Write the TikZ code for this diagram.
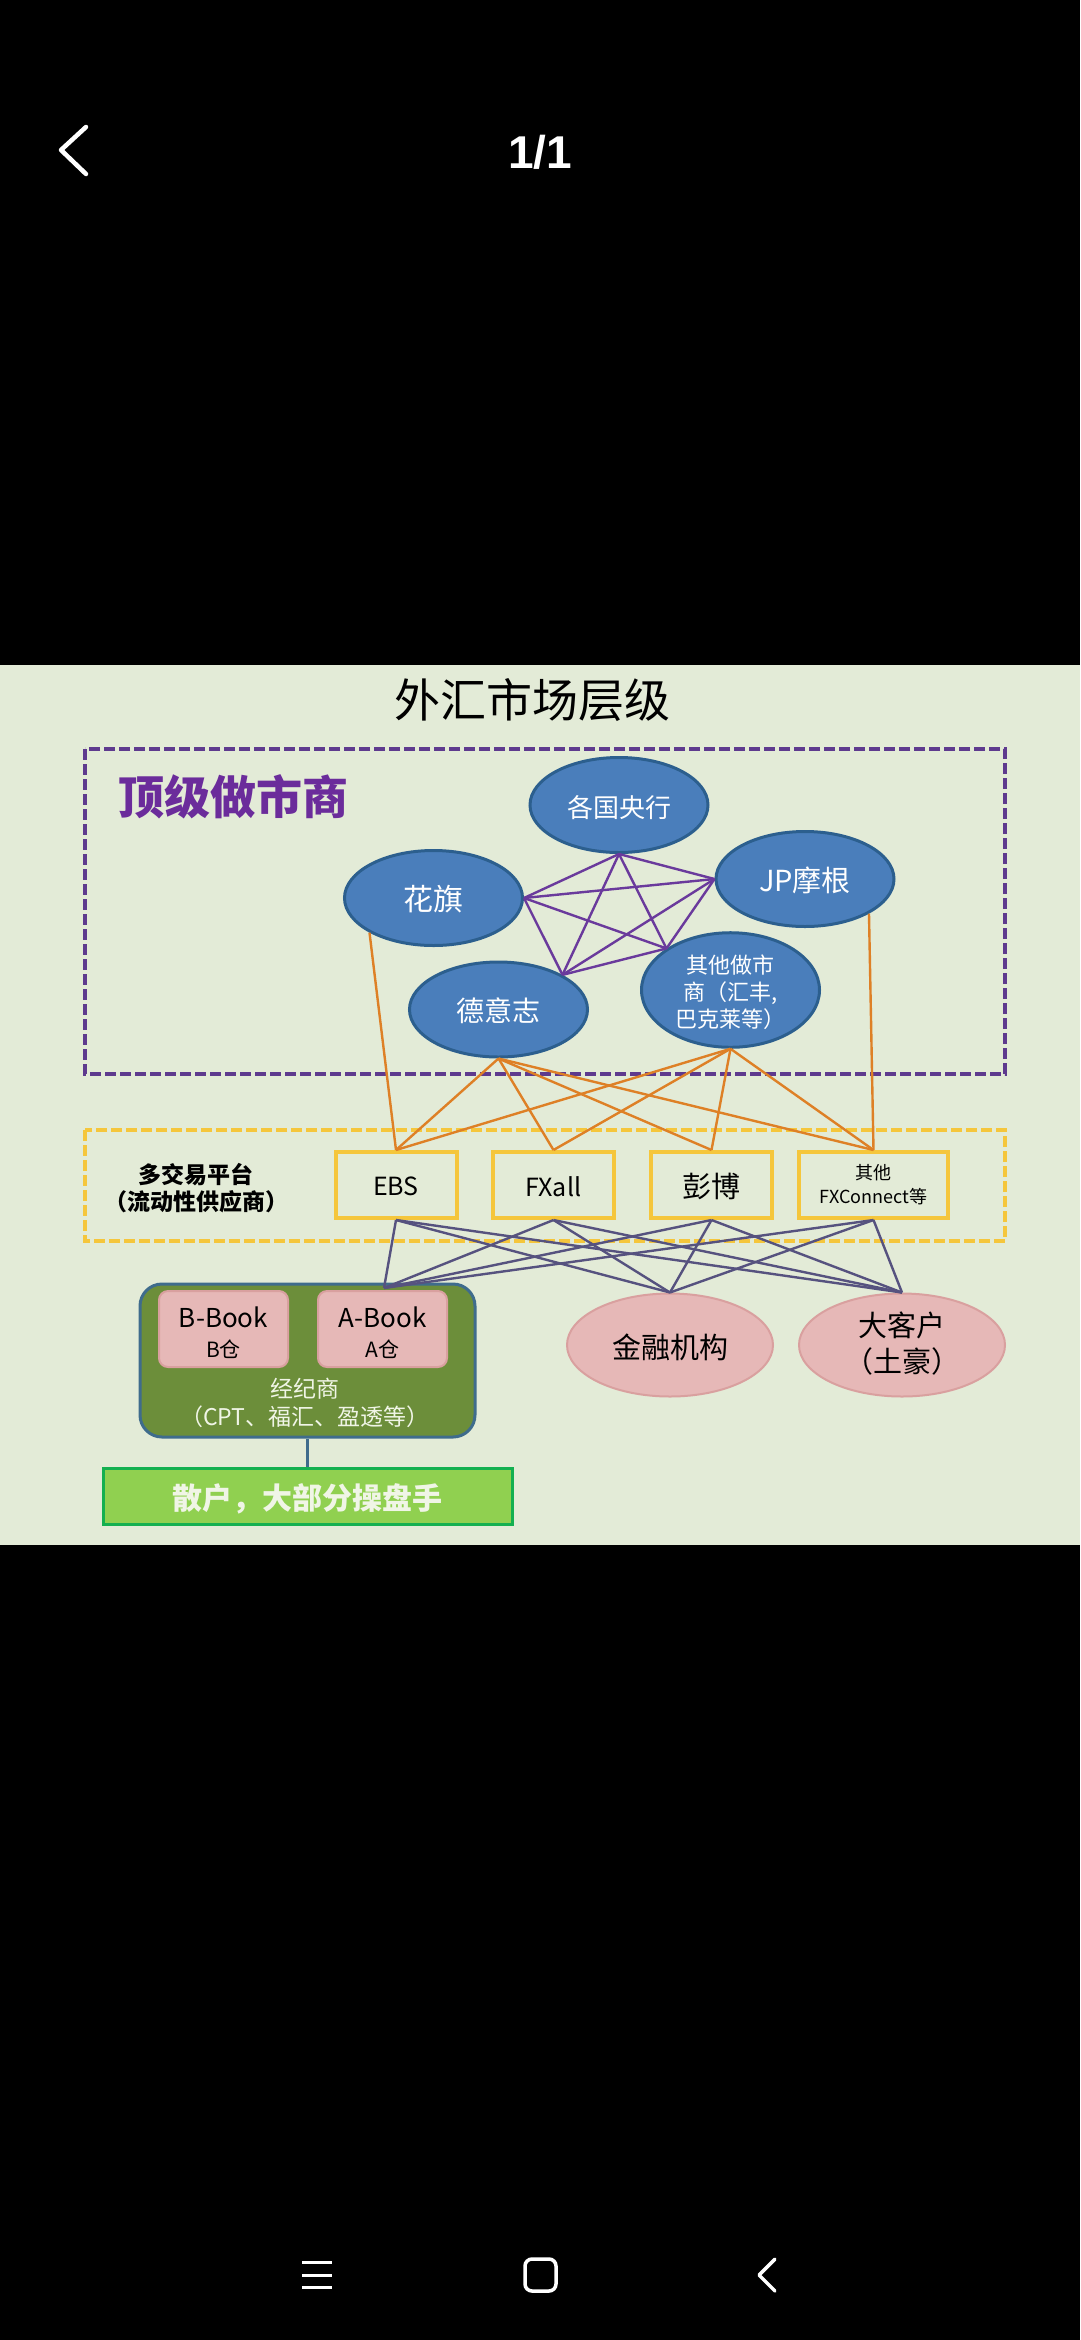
\documentclass[tikz,border=0pt]{standalone}
\usepackage{fontspec}
\setmainfont{Noto Sans CJK SC}
\newfontfamily\uifont{Liberation Sans}
\usetikzlibrary{shapes.geometric}
\newcommand\lowered[2]{\raisebox{-#1}[\height][\depth]{#2}}
\newcommand\stacked[1]{\begin{tabular}{@{}c@{}}#1\end{tabular}}
\definecolor{pagebg}{HTML}{E3EBD7}
\definecolor{toppurple}{HTML}{5E3A8E}
\definecolor{titlepurple}{HTML}{6B2C9B}
\definecolor{ellfill}{HTML}{4A7EBB}
\definecolor{ellline}{HTML}{2C5F8E}
\definecolor{linkpurple}{HTML}{6A3A9C}
\definecolor{linkorange}{HTML}{DE8026}
\definecolor{linkslate}{HTML}{56527F}
\definecolor{boxyellow}{HTML}{F5C63C}
\definecolor{brokerfill}{HTML}{6C8E3A}
\definecolor{brokerline}{HTML}{3F6C8C}
\definecolor{pinkfill}{HTML}{E6B8B7}
\definecolor{pinkline}{HTML}{D9A09F}
\definecolor{softwhite}{HTML}{F0F5E6}
\definecolor{retailfill}{HTML}{90D050}
\definecolor{retailline}{HTML}{14B050}
\tikzset{
  fs/.style 2 args={font=\fontsize{#1}{#2}\selectfont},
  fsb/.style 2 args={font=\bfseries\fontsize{#1}{#2}\selectfont},
  maker/.style={ellipse,draw=ellline,line width=3pt,fill=ellfill,text=white,inner sep=0pt,
     minimum width=178pt,minimum height=95pt,align=center},
  venue/.style={rectangle,draw=boxyellow,line width=4pt,fill=pagebg,text=black,inner sep=0pt,
     minimum height=66pt,align=center},
  book/.style={rectangle,rounded corners=9pt,draw=pinkline,line width=2pt,fill=pinkfill,text=black,
     inner sep=0pt,minimum width=129pt,minimum height=76pt,align=center},
  client/.style={ellipse,draw=pinkline,line width=2pt,fill=pinkfill,text=black,inner sep=0pt,
     minimum width=206pt,minimum height=103pt,align=center},
  mesh/.style={draw=linkpurple,line width=2.4pt},
  feed/.style={draw=linkorange,line width=2.4pt},
  dist/.style={draw=linkslate,line width=2.4pt},
  uiline/.style={draw=white,line width=4.5pt,line cap=round,line join=round},
}
\begin{document}
\begin{tikzpicture}[x=1pt,y=-1pt]
\useasboundingbox (0,0) rectangle (1080,2340);
\fill[black] (0,0) rectangle (1080,2340);
\fill[pagebg] (0,665) rectangle (1080,1545);

% phone chrome
\coordinate (ba) at (86,127); \coordinate (bb) at (61,150); \coordinate (bc) at (86,174);
\draw[uiline] (ba) -- (bb) -- (bc);
\node[text=white,inner sep=0pt,font=\uifont\bfseries\fontsize{46}{50}\selectfont] (pager) at (540,152) {1/1};
\coordinate (m1a) at (302,2262); \coordinate (m1b) at (332,2262);
\coordinate (m2a) at (302,2275); \coordinate (m2b) at (332,2275);
\coordinate (m3a) at (302,2287); \coordinate (m3b) at (332,2287);
\draw[draw=white,line width=3pt] (m1a) -- (m1b) (m2a) -- (m2b) (m3a) -- (m3b);
\draw[draw=white,line width=3.5pt,rounded corners=7pt] (525,2259) rectangle (556,2291);
\coordinate (na) at (775,2259); \coordinate (nb) at (759,2275); \coordinate (nc) at (775,2291);
\draw[uiline,line width=3.5pt] (na) -- (nb) -- (nc);

% title and groups
\node[text=black,inner sep=0pt,fs={46}{50}] (title) at (532,700) {外汇市场层级};
\draw[toppurple,line width=4pt,dash pattern=on 11pt off 4pt] (85,749) rectangle (1005,1074);
\node[text=titlepurple,inner sep=0pt,fsb={46}{50}] (toplabel) at (233,797) {顶级做市商};
\draw[boxyellow,line width=4pt,dash pattern=on 11pt off 4pt] (85,1130) rectangle (1005,1241);
\node[text=black,inner sep=0pt,fsb={23}{27},align=center] (venuelabel) at (196,1188) {多交易平台\\（流动性供应商）};

% nodes
\node[maker,fs={26}{30}] (cb) at (619,805) {\lowered{3pt}{各国央行}};
\node[maker,fs={30}{34}] (citi) at (433.5,898) {\lowered{1.5pt}{花旗}};
\node[maker,fs={29}{34}] (jp) at (805,879) {\lowered{1.5pt}{JP摩根}};
\node[maker,fs={28}{34}] (db) at (498.5,1009.5) {\lowered{1.5pt}{德意志}};
\node[maker,minimum height=114pt,fs={22}{27}] (other) at (730.5,990) {\lowered{5pt}{\stacked{其他做市\\商（汇丰,\\巴克莱等）}}};

\node[venue,minimum width=121pt,fs={25}{30}] (ebs) at (396,1185) {\lowered{1.5pt}{EBS}};
\node[venue,minimum width=121pt,fs={25}{30}] (fxall) at (553.5,1185) {\lowered{1.5pt}{FXall}};
\node[venue,minimum width=121pt,fs={29}{34}] (bbg) at (711.5,1185) {\lowered{1.5pt}{彭博}};
\node[venue,minimum width=149pt,fs={18}{24}] (fxc) at (873.5,1185) {其他\\FXConnect等};

\node[rectangle,rounded corners=22pt,draw=brokerline,line width=3pt,fill=brokerfill,minimum width=335pt,minimum height=153pt,inner sep=0pt] (broker) at (307.5,1360.5) {};
\node[book,fs={26}{30}] (bbook) at (223.5,1329) {\lowered{7pt}{\stacked{B-Book\\\fontsize{21}{23}\selectfont B仓}}};
\node[book,fs={26}{30}] (abook) at (382.5,1329) {\lowered{7pt}{\stacked{A-Book\\\fontsize{21}{23}\selectfont A仓}}};
\node[text=softwhite,inner sep=0pt,align=center,fs={23}{28}] (brokerlabel) at (305,1403) {经纪商\\（CPT、福汇、盈透等）};
\coordinate (bk) at (384,1288);

\node[client,fs={29}{34}] (fin) at (670,1345) {\lowered{2pt}{金融机构}};
\node[client,fs={29}{36}] (big) at (902,1345) {\lowered{2pt}{\stacked{大客户\\（土豪）}}};

\node[rectangle,draw=retailline,line width=3pt,fill=retailfill,text=softwhite,minimum width=409pt,minimum height=56pt,inner sep=0pt,fsb={30}{32}] (retail) at (307.5,1496) {\lowered{3pt}{散户，大部分操盘手}};

% connectors
\foreach \a/\b in {cb.south/citi.east,cb.south/jp.west,cb.south/db.north east,cb.south/other.north west,
  citi.east/jp.west,citi.east/db.north east,citi.east/other.north west,
  jp.west/db.north east,jp.west/other.north west,db.north east/other.north west}
  \draw[mesh] (\a) -- (\b);
\draw[feed] (citi.south west) -- (ebs.north);
\draw[feed] (jp.south east) -- (fxc.north);
\foreach \t in {ebs,fxall,bbg,fxc}{
  \draw[feed] (db.south) -- (\t.north);
  \draw[feed] (other.south) -- (\t.north);
  \draw[dist] (\t.south) -- (bk);
  \draw[dist] (\t.south) -- (fin.north);
  \draw[dist] (\t.south) -- (big.north);
}
\draw[draw=brokerline,line width=3pt] (broker.south) -- (retail.north);
\end{tikzpicture}
\end{document}
